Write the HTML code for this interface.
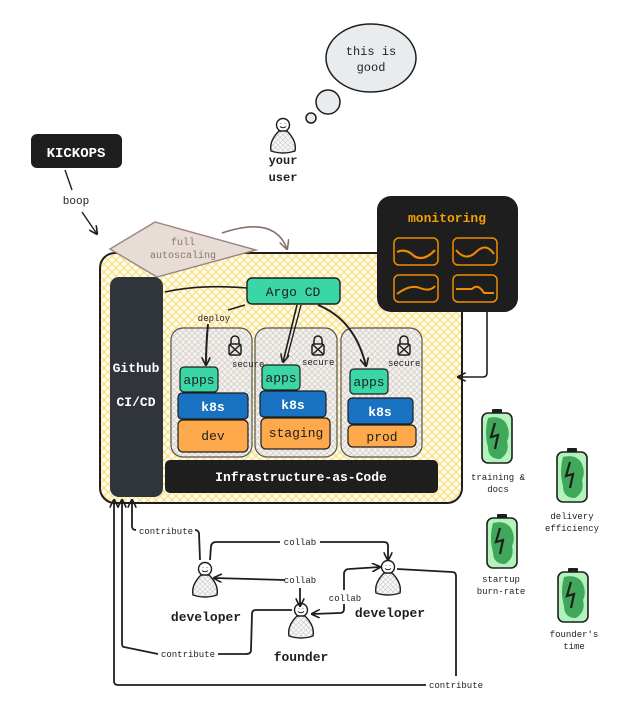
<!DOCTYPE html>
<html><head><meta charset="utf-8"><style>
html,body{margin:0;padding:0;background:#fff;}
svg{display:block;}
text{font-family:"Liberation Mono",monospace;}
</style></head><body>
<svg width="621" height="710" viewBox="0 0 621 710" xmlns="http://www.w3.org/2000/svg">
<defs>
<pattern id="hy" width="8" height="8" patternUnits="userSpaceOnUse">
<rect width="8" height="8" fill="#fffbe8"/>
<path d="M0 0L8 8M8 0L0 8" stroke="#f5dc7a" stroke-width="1"/>
</pattern>
<pattern id="hg" width="6" height="6" patternUnits="userSpaceOnUse">
<rect width="6" height="6" fill="#f3f1ee"/>
<path d="M0 0L6 6M6 0L0 6" stroke="#d6d0c8" stroke-width="0.8"/>
</pattern>
<pattern id="hp" width="5" height="5" patternUnits="userSpaceOnUse">
<rect width="5" height="5" fill="#fafafa"/>
<path d="M0 0L5 5M5 0L0 5" stroke="#ccc" stroke-width="0.7"/>
</pattern>
<marker id="ar" viewBox="0 0 10 10" refX="9" refY="5" markerWidth="9" markerHeight="9" orient="auto-start-reverse" markerUnits="userSpaceOnUse">
<path d="M0 0L10 5L0 10" fill="none" stroke="#1e1e1e" stroke-width="1.8"/>
</marker>
<marker id="arb" viewBox="0 0 10 10" refX="9" refY="5" markerWidth="10" markerHeight="10" orient="auto" markerUnits="userSpaceOnUse">
<path d="M0 0L10 5L0 10" fill="none" stroke="#8a6f68" stroke-width="1.6"/>
</marker>
<g id="bat">
<rect x="10" y="-4" width="10" height="5" rx="1" fill="#1e1e1e"/>
<rect x="0" y="0" width="30" height="50" rx="6" fill="#b2f2bb" stroke="#1e1e1e" stroke-width="1.6"/>
<path d="M6 5 Q18 2 24 10 Q29 20 25 28 Q28 40 18 46 Q6 46 6 34 Q2 20 6 5Z" fill="#40a85a"/>
<path d="M13 10 L9 24 L16 22 L13 36" fill="none" stroke="#1e1e1e" stroke-width="2.2"/>
</g>
<g id="person">
<circle cx="0" cy="0" r="6.5" fill="#fff" stroke="#1e1e1e" stroke-width="1.4"/>
<path d="M-2 -1.5v0.5M2 -1.5v0.5M-3 1.5 Q0 4 3 1.5" stroke="#1e1e1e" stroke-width="1" fill="none"/>
<path d="M-4 6 Q-14 16 -12 26 Q0 30 12 26 Q14 16 4 6Z" fill="url(#hp)" stroke="#1e1e1e" stroke-width="1.4"/>
</g>
</defs>

<rect x="100" y="253" width="362" height="250" rx="15" fill="url(#hy)" stroke="#1e1e1e" stroke-width="2"/>

<polygon points="110,249 155,222 256,250 157,277" fill="#e8dcd6" stroke="#9c8480" stroke-width="1.4"/>
<text x="183" y="245" font-size="10" fill="#8a7570" text-anchor="middle">full</text>
<text x="183" y="258" font-size="10" fill="#8a7570" text-anchor="middle">autoscaling</text>
<path d="M222 233 Q275 215 287 249" fill="none" stroke="#8a6f68" stroke-width="1.6" marker-end="url(#arb)"/>

<rect x="110" y="277" width="53" height="220" rx="9" fill="#30353b"/>
<text x="136" y="372" font-size="13" fill="#fff" text-anchor="middle" font-weight="bold">Github</text>
<text x="136" y="406" font-size="13" fill="#fff" text-anchor="middle" font-weight="bold">CI/CD</text>

<path d="M165 292 Q200 284 247 288" fill="none" stroke="#1e1e1e" stroke-width="1.6"/>
<rect x="247" y="278" width="93" height="26" rx="5" fill="#3ad6a5" stroke="#1e1e1e" stroke-width="1.4"/>
<text x="293" y="296" font-size="13" fill="#1e1e1e" text-anchor="middle">Argo CD</text>

<rect x="171" y="328" width="81" height="129" rx="12" fill="url(#hg)" stroke="#555" stroke-width="1.2"/>
<rect x="255" y="328" width="82" height="129" rx="12" fill="url(#hg)" stroke="#555" stroke-width="1.2"/>
<rect x="341" y="328" width="81" height="129" rx="12" fill="url(#hg)" stroke="#555" stroke-width="1.2"/>

<g fill="none" stroke="#1e1e1e" stroke-width="1.5">
<path d="M231 344 v-4 a4 4 0 0 1 8 0 v4"/><rect x="229" y="344" width="12" height="11" rx="2"/><path d="M230 345 l10 9 M240 345 l-10 9"/>
<path d="M314 344 v-4 a4 4 0 0 1 8 0 v4"/><rect x="312" y="344" width="12" height="11" rx="2"/><path d="M313 345 l10 9 M323 345 l-10 9"/>
<path d="M400 344 v-4 a4 4 0 0 1 8 0 v4"/><rect x="398" y="344" width="12" height="11" rx="2"/><path d="M399 345 l10 9 M409 345 l-10 9"/>
</g>
<text x="232" y="367" font-size="9" fill="#1e1e1e">secure</text>
<text x="302" y="365" font-size="9" fill="#1e1e1e">secure</text>
<text x="388" y="366" font-size="9" fill="#1e1e1e">secure</text>

<rect x="180" y="367" width="38" height="25" rx="4" fill="#3ad6a5" stroke="#1e1e1e" stroke-width="1.2"/>
<text x="199" y="384" font-size="13" text-anchor="middle" fill="#1e1e1e">apps</text>
<rect x="178" y="393" width="70" height="26" rx="4" fill="#1971c2" stroke="#1e1e1e" stroke-width="1.2"/>
<text x="213" y="411" font-size="13" text-anchor="middle" fill="#fff" font-weight="bold">k8s</text>
<rect x="178" y="420" width="70" height="32" rx="5" fill="#ffa94d" stroke="#1e1e1e" stroke-width="1.2"/>
<text x="213" y="440" font-size="13" text-anchor="middle" fill="#1e1e1e">dev</text>

<rect x="262" y="365" width="38" height="25" rx="4" fill="#3ad6a5" stroke="#1e1e1e" stroke-width="1.2"/>
<text x="281" y="382" font-size="13" text-anchor="middle" fill="#1e1e1e">apps</text>
<rect x="260" y="391" width="66" height="26" rx="4" fill="#1971c2" stroke="#1e1e1e" stroke-width="1.2"/>
<text x="293" y="409" font-size="13" text-anchor="middle" fill="#fff" font-weight="bold">k8s</text>
<rect x="261" y="418" width="69" height="31" rx="5" fill="#ffa94d" stroke="#1e1e1e" stroke-width="1.2"/>
<text x="296" y="437" font-size="13" text-anchor="middle" fill="#1e1e1e">staging</text>

<rect x="350" y="369" width="38" height="25" rx="4" fill="#3ad6a5" stroke="#1e1e1e" stroke-width="1.2"/>
<text x="369" y="386" font-size="13" text-anchor="middle" fill="#1e1e1e">apps</text>
<rect x="348" y="398" width="65" height="26" rx="4" fill="#1971c2" stroke="#1e1e1e" stroke-width="1.2"/>
<text x="380" y="416" font-size="13" text-anchor="middle" fill="#fff" font-weight="bold">k8s</text>
<rect x="348" y="425" width="68" height="22" rx="5" fill="#ffa94d" stroke="#1e1e1e" stroke-width="1.2"/>
<text x="382" y="441" font-size="13" text-anchor="middle" fill="#1e1e1e">prod</text>

<path d="M245 305 L228 310" stroke="#1e1e1e" stroke-width="1.6" fill="none"/>
<text x="214" y="321" font-size="9" text-anchor="middle" fill="#1e1e1e">deploy</text>
<path d="M208 324 Q206 345 206 365" stroke="#1e1e1e" stroke-width="2" fill="none" marker-end="url(#ar)"/>
<path d="M297 305 L283 362" stroke="#1e1e1e" stroke-width="1.6" fill="none" marker-end="url(#ar)"/>
<path d="M301 305 L287 358" stroke="#1e1e1e" stroke-width="1.4" fill="none"/>
<path d="M318 305 Q355 320 366 366" stroke="#1e1e1e" stroke-width="2" fill="none" marker-end="url(#ar)"/>

<rect x="165" y="460" width="273" height="33" rx="5" fill="#1e1e1e"/>
<text x="301" y="481" font-size="13" text-anchor="middle" fill="#fff" font-weight="bold">Infrastructure-as-Code</text>

<rect x="377" y="196" width="141" height="116" rx="14" fill="#1e1e1e"/>
<text x="447" y="222" font-size="13" text-anchor="middle" fill="#f59f00" font-weight="bold">monitoring</text>
<g fill="none" stroke="#f08c00" stroke-width="1.5">
<rect x="394" y="238" width="44" height="27" rx="5"/><rect x="453" y="238" width="44" height="27" rx="5"/>
<rect x="394" y="275" width="44" height="27" rx="5"/><rect x="453" y="275" width="44" height="27" rx="5"/>
<path d="M397 252 Q406 248 414 256 Q424 262 435 250" stroke-width="2.2"/>
<path d="M456 250 Q466 262 476 252 Q486 242 494 254" stroke-width="2"/>
<path d="M397 294 Q410 284 420 288 Q430 292 435 286" stroke-width="2"/>
<path d="M456 289 L472 289 Q478 283 484 293 L494 293" stroke-width="2"/>
</g>
<path d="M487 312 L487 373 Q487 377 483 377 L458 377" stroke="#1e1e1e" stroke-width="1.6" fill="none" marker-end="url(#ar)"/>

<rect x="31" y="134" width="91" height="34" rx="6" fill="#1e1e1e"/>
<text x="76" y="157" font-size="14" text-anchor="middle" fill="#fff" font-weight="bold">KICKOPS</text>
<path d="M65 170 L72 190" stroke="#1e1e1e" stroke-width="1.4"/>
<text x="76" y="204" font-size="11" text-anchor="middle" fill="#1e1e1e">boop</text>
<path d="M82 212 L97 234" stroke="#1e1e1e" stroke-width="1.4" marker-end="url(#ar)"/>

<use href="#person" x="283" y="125"/>
<text x="283" y="164" font-size="12" text-anchor="middle" fill="#1e1e1e" font-weight="bold">your</text>
<text x="283" y="181" font-size="12" text-anchor="middle" fill="#1e1e1e" font-weight="bold">user</text>
<ellipse cx="371" cy="58" rx="45" ry="34" fill="#e9ecef" stroke="#1e1e1e" stroke-width="1.5"/>
<text x="371" y="55" font-size="12" text-anchor="middle" fill="#1e1e1e">this is</text>
<text x="371" y="71" font-size="12" text-anchor="middle" fill="#1e1e1e">good</text>
<circle cx="328" cy="102" r="12" fill="#e9ecef" stroke="#1e1e1e" stroke-width="1.5"/>
<circle cx="311" cy="118" r="5" fill="#e9ecef" stroke="#1e1e1e" stroke-width="1.5"/>

<use href="#bat" x="482" y="413"/>
<text x="498" y="480" font-size="9" text-anchor="middle" fill="#1e1e1e">training &amp;</text>
<text x="498" y="492" font-size="9" text-anchor="middle" fill="#1e1e1e">docs</text>
<use href="#bat" x="557" y="452"/>
<text x="572" y="519" font-size="9" text-anchor="middle" fill="#1e1e1e">delivery</text>
<text x="572" y="531" font-size="9" text-anchor="middle" fill="#1e1e1e">efficiency</text>
<use href="#bat" x="487" y="518"/>
<text x="501" y="582" font-size="9" text-anchor="middle" fill="#1e1e1e">startup</text>
<text x="501" y="594" font-size="9" text-anchor="middle" fill="#1e1e1e">burn-rate</text>
<use href="#bat" x="558" y="572"/>
<text x="574" y="637" font-size="9" text-anchor="middle" fill="#1e1e1e">founder's</text>
<text x="574" y="649" font-size="9" text-anchor="middle" fill="#1e1e1e">time</text>

<use href="#person" x="205" y="569"/>
<text x="206" y="621" font-size="13" text-anchor="middle" fill="#1e1e1e" font-weight="bold">developer</text>
<use href="#person" x="388" y="567"/>
<text x="390" y="617" font-size="13" text-anchor="middle" fill="#1e1e1e" font-weight="bold">developer</text>
<use href="#person" x="301" y="610"/>
<text x="301" y="661" font-size="13" text-anchor="middle" fill="#1e1e1e" font-weight="bold">founder</text>

<g stroke="#1e1e1e" stroke-width="1.8" fill="none">
<path d="M200 560 L199 533 Q198 530 195 530"/>
<path d="M136 530 Q132 530 132 526 L132 500" marker-end="url(#ar)"/>
<path d="M210 560 L211 546 Q212 542 216 542 L280 542"/>
<path d="M320 542 L384 542 Q388 542 388 546 L388 560" marker-end="url(#ar)"/>
<path d="M285 580 L214 578" marker-end="url(#ar)"/>
<path d="M300 588 L300 606" marker-end="url(#ar)"/>
<path d="M344 590 L344 573 Q345 569 349 569 L380 567" marker-end="url(#ar)"/>
<path d="M344 604 L344 609 Q344 613 340 613 L312 614" marker-end="url(#ar)"/>
<path d="M292 610 L256 610 Q252 610 252 614 L251 650 Q251 654 246 654 L218 654"/>
<path d="M158 654 L124 647 Q122 647 122 643 L122 500" marker-end="url(#ar)"/>
<path d="M397 569 L452 572 Q456 572 456 576 L456 676"/>
<path d="M426 685 L118 685 Q114 685 114 681 L114 500" marker-end="url(#ar)"/>
</g>
<g font-size="9" fill="#1e1e1e" text-anchor="middle">
<text x="166" y="534">contribute</text>
<text x="300" y="545">collab</text>
<text x="300" y="583">collab</text>
<text x="345" y="601">collab</text>
<text x="188" y="657">contribute</text>
<text x="456" y="688">contribute</text>
</g>
</svg>
</body></html>
